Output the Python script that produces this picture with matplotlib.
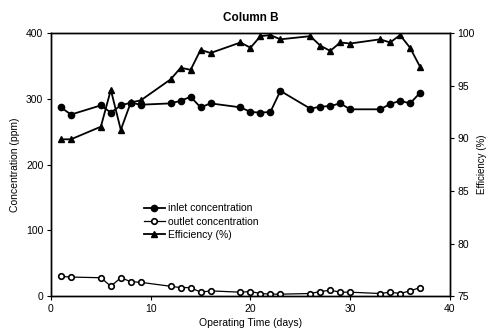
import matplotlib
matplotlib.use("Agg")
import matplotlib.pyplot as plt

plt.rcParams['font.family'] = ['Liberation Sans', 'DejaVu Sans']

days = [1, 2, 5, 6, 7, 8, 9, 12, 13, 14, 15, 16, 19, 20, 21, 22, 23, 26, 27, 28, 29, 30, 33, 34, 35, 36, 37]
inlet = [287, 276, 290, 279, 290, 294, 291, 293, 297, 303, 287, 293, 287, 280, 279, 280, 312, 285, 288, 289, 293, 284, 284, 292, 297, 293, 309]
outlet = [30, 29, 28, 15, 28, 22, 21, 15, 13, 13, 6, 8, 6, 7, 4, 3, 3, 4, 7, 9, 6, 6, 4, 6, 4, 8, 13]
efficiency = [89.9, 89.9, 91.1, 94.6, 90.8, 93.4, 93.6, 95.6, 96.7, 96.5, 98.4, 98.1, 99.1, 98.6, 99.7, 99.8, 99.4, 99.7, 98.8, 98.3, 99.1, 99.0, 99.4, 99.1, 99.8, 98.6, 96.8]

fig = plt.figure(figsize=(4.88, 3.32), dpi=100)
ax = fig.add_axes([0.1045, 0.108, 0.8175, 0.7926])
ax2 = ax.twinx()

l1, = ax.plot(days, inlet, '-o', color='black', lw=1.3, ms=4.5, mfc='black', mec='black', label='inlet concentration')
l2, = ax.plot(days, outlet, '-o', color='black', lw=0.9, ms=4.0, mfc='white', mec='black', mew=1.2, label='outlet concentration')
l3, = ax2.plot(days, efficiency, '-^', color='black', lw=1.3, ms=5, mfc='black', mec='black', label='Efficiency (%)')

ax.set_xlim(0, 40)
ax.set_ylim(0, 400)
ax2.set_ylim(75, 100)
ax.set_xticks([0, 10, 20, 30, 40])
ax.set_yticks([0, 100, 200, 300, 400])
ax2.set_yticks([75, 80, 85, 90, 95, 100])

for a in (ax, ax2):
    a.tick_params(labelsize=7.5, length=3, width=0.8, direction='out', pad=2.5)
    for s in a.spines.values():
        s.set_linewidth(1.0)

ax.set_xlabel('Operating Time (days)', fontsize=7.5, labelpad=3)
ax.set_ylabel('Concentration (ppm)', fontsize=7.5, labelpad=4)
ax2.set_ylabel('Efficiency (%)', fontsize=7, labelpad=1.5)
ax.set_title('Column B', fontsize=8.5, fontweight='bold', pad=9)

leg = ax.legend(handles=[l1, l2, l3], loc='upper left', bbox_to_anchor=(0.215, 0.38),
                frameon=False, fontsize=7.5, handlelength=2.0, handletextpad=0.3,
                labelspacing=0.3, borderpad=0.2)

fig.savefig('out.png', dpi=100)
